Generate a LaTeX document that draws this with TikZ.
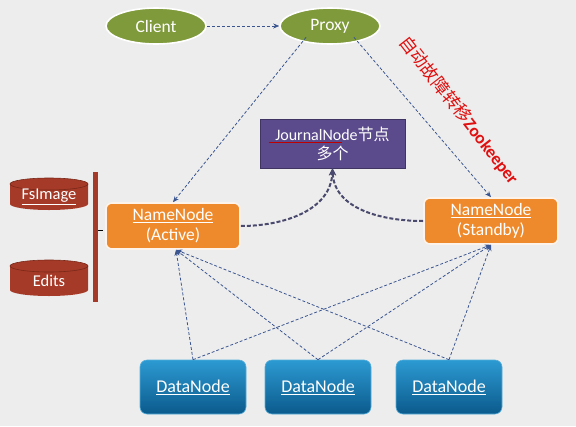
\documentclass[tikz,border=0pt]{standalone}
\usepackage{fontspec}
\setmainfont{Carlito}
\newfontfamily\cjk{Noto Sans CJK SC}
\usetikzlibrary{shapes.geometric,arrows.meta,calc}
\definecolor{bg}{HTML}{EDEDED}
\definecolor{olive}{HTML}{7F9A3A}
\definecolor{orng}{HTML}{EE8A2C}
\definecolor{purp}{HTML}{5B4A8C}
\definecolor{dred}{HTML}{A53A28}
\definecolor{dredl}{HTML}{7A2818}
\definecolor{bluet}{HTML}{2C9AD2}
\definecolor{blueb}{HTML}{0B5A8C}
\definecolor{arr}{HTML}{3A5590}
\definecolor{arrj}{HTML}{4A4A6E}
\definecolor{zred}{HTML}{E01010}
\tikzset{
  ell/.style={ellipse, fill=olive, draw=white, line width=1.6pt, minimum width=100pt, minimum height=36pt, text=white, font=\fontsize{17.5}{18}\selectfont},
  nn/.style={rectangle, rounded corners=6pt, fill=orng, draw=white!90!orng, line width=1.6pt, minimum width=134pt, minimum height=46pt, text=white, align=center, font=\fontsize{17.5}{20}\selectfont},
  dn/.style={rectangle, rounded corners=7pt, top color=bluet, bottom color=blueb, draw=bluet!80!white, line width=0.6pt, minimum width=106pt, minimum height=54pt, text=white, font=\fontsize{18}{18}\selectfont},
  jnbox/.style={rectangle, fill=purp, draw=purp!70!black, line width=0.6pt, minimum width=145pt, minimum height=49pt, text=white, align=center, font=\fontsize{16}{20}\selectfont},
  cyltxt/.style={text=white, font=\fontsize{16.5}{18}\selectfont},
  link/.style={draw=arr, dashed, dash pattern=on 3pt off 2pt, line width=0.8pt, -{Stealth[length=6pt,width=5pt]}},
  jlink/.style={draw=arrj, dash pattern=on 4pt off 2pt, line width=2pt, -{Stealth[length=7pt,width=7pt]}},
}
\begin{document}
\begin{tikzpicture}[x=1pt,y=-1pt]
\useasboundingbox (0,0) rectangle (576,426);
\fill[bg] (0,0) rectangle (576,426);

% ellipses
\node[ell] (client) at (156,26) {Client};
\node[ell] (proxy) at (330,26) {Proxy};

% NameNodes
\node[nn] (act) at (173,226) {\underline{NameNode}\\(Active)};
\node[nn] (stb) at (491,221) {\underline{NameNode}\\(Standby)};

% JournalNode
\node[jnbox] (jn) at (332.5,143.5) {JournalNode{\cjk 节点}\\[-1pt]{\cjk 多个}};
\draw[red!75!black, line width=0.6pt] ($(jn.center)+(-64,-1)$) coordinate (ul1) -- ($(jn.center)+(9,-1)$) coordinate (ul2);

% cylinders
\foreach \cy/\h in {178/32,260/36}{
  \fill[dred] (10,\cy+6) -- (10,\cy+\h-6) arc[start angle=180,end angle=0,x radius=39,y radius=6] -- (88,\cy+6) arc[start angle=0,end angle=-180,x radius=39,y radius=6] -- cycle;
  \draw[dredl, line width=0.6pt] (49,\cy+6) ellipse[x radius=39,y radius=6];
}
\node[cyltxt] (fs) at (49,197) {\underline{FsImage}};
\node[cyltxt] (ed) at (49,281) {Edits};

% bar
\fill[dred] (93,172) rectangle (98,302);
\draw[black, line width=0.8pt] (98,230) -- (103,230);

% DataNodes
\node[dn] (d1) at (193,387) {\underline{DataNode}};
\node[dn] (d2) at (318,387) {\underline{DataNode}};
\node[dn] (d3) at (449,387) {\underline{DataNode}};

% red text
\node[text=zred, rotate=-52, inner sep=0pt, font=\fontsize{17.5}{18}\selectfont] (zk) at (459,110) {{\cjk 自动故障转移}\textbf{Zookeeper}};

% connectors
\draw[link] (client) -- (proxy);
\draw[link] (proxy.south west) ++(12,-2) coordinate (p1) -- (act.north);
\draw[link] (proxy.south east) ++(-12,-2) coordinate (p2) -- (stb.north);

\draw[jlink] (act.east) to[out=0,in=-92] (jn.south);
\draw[jlink] (stb.west) to[out=180,in=-88] (jn.south);

\foreach \d in {d1,d2,d3}{
  \draw[link] (\d.north) -- ($(act.south)+(3,0)$);
  \draw[link] (\d.north) -- (stb.south);
}
\end{tikzpicture}
\end{document}
